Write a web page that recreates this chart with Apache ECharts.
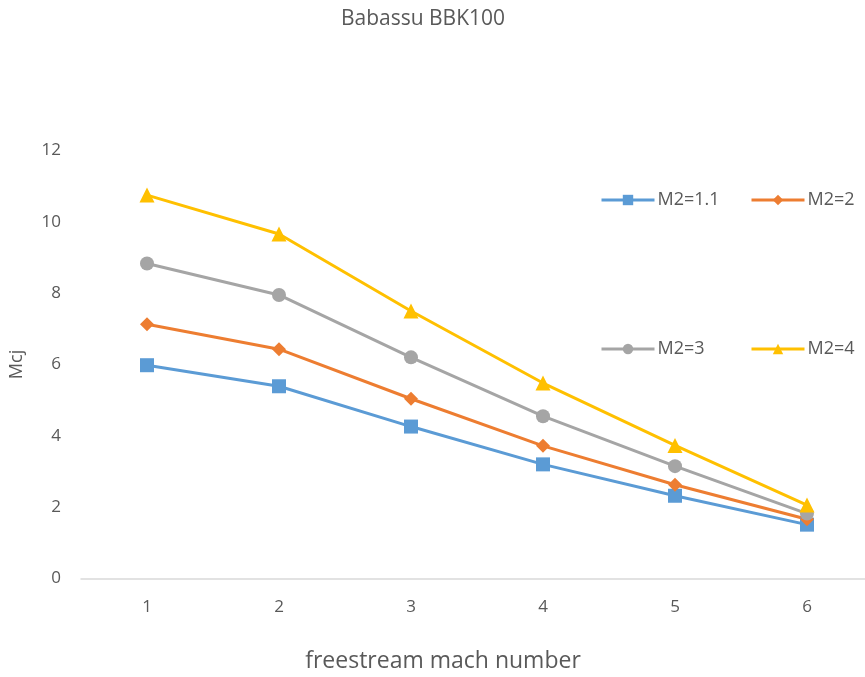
<!DOCTYPE html>
<html><head><meta charset="utf-8">
<script src="https://cdn.jsdelivr.net/npm/echarts@6/dist/echarts.min.js"></script>
<style>html,body{margin:0;padding:0;background:#fff;overflow:hidden;width:865px;height:677px}#c{width:873px;height:677px}</style>
</head><body><div id="c"></div>
<script>
const categories = ['1','2','3','4','5','6'];
const m11 = [5.98, 5.39, 4.26, 3.20, 2.32, 1.51];
const m2  = [7.13, 6.43, 5.04, 3.72, 2.63, 1.66];
const m3  = [8.83, 7.95, 6.20, 4.55, 3.15, 1.82];
const m4  = [10.75, 9.66, 7.50, 5.48, 3.73, 2.06];
const seriesNames = ['M2=1.1','M2=2','M2=3','M2=4'];
const yTicks = {min:0, max:12, interval:2};

const font = 'Open Sans';
const txt = '#595959';
const chart = echarts.init(document.getElementById('c'));
function s(name, data, color, symbol, size){
  return {name, type:'line', data, symbol, symbolSize:size, showSymbol:true,
    lineStyle:{color, width:3}, itemStyle:{color, borderWidth:0}, z:3};
}
const legText = {fontFamily:font, fontSize:18, color:txt, padding:[0,0,0,-2]};
chart.setOption({
  animation:false,
  title:[
    {text:'Babassu BBK100', left:418, top:4, textAlign:'center',
     textStyle:{fontFamily:font, fontSize:21, fontWeight:'normal', color:txt}},
    {text:'freestream mach number', left:438, top:645, textAlign:'center',
     textStyle:{fontFamily:font, fontSize:23, fontWeight:'normal', color:txt}}
  ],
  grid:{left:77, top:150.5, width:796, height:428},
  legend:[
    {orient:'vertical', left:595, top:186, itemWidth:53, itemHeight:13, itemGap:131,
     data:['M2=1.1','M2=3'], textStyle:legText, lineStyle:{width:3}},
    {orient:'vertical', left:745, top:186, itemWidth:53, itemHeight:13, itemGap:131,
     data:['M2=2','M2=4'], textStyle:legText, lineStyle:{width:3}}
  ],
  xAxis:{type:'category', data:categories, boundaryGap:true,
    axisLine:{lineStyle:{color:'#d9d9d9', width:1.5}}, axisTick:{show:false},
    axisLabel:{fontFamily:font, fontSize:17, color:txt, margin:20}},
  yAxis:{type:'value', min:yTicks.min, max:yTicks.max, interval:yTicks.interval,
    name:'Mcj', nameLocation:'middle', nameGap:55, nameRotate:90,
    nameTextStyle:{fontFamily:font, fontSize:18, color:txt},
    axisLine:{show:false}, axisTick:{show:false}, splitLine:{show:false},
    axisLabel:{fontFamily:font, fontSize:17, color:txt, margin:20}},
  series:[
    s(seriesNames[0], m11, '#5B9BD5', 'rect', 14),
    s(seriesNames[1], m2, '#ED7D31', 'diamond', 14),
    s(seriesNames[2], m3, '#A5A5A5', 'circle', 14),
    s(seriesNames[3], m4, '#FFC000', 'triangle', 15)
  ]
});
</script></body></html>
